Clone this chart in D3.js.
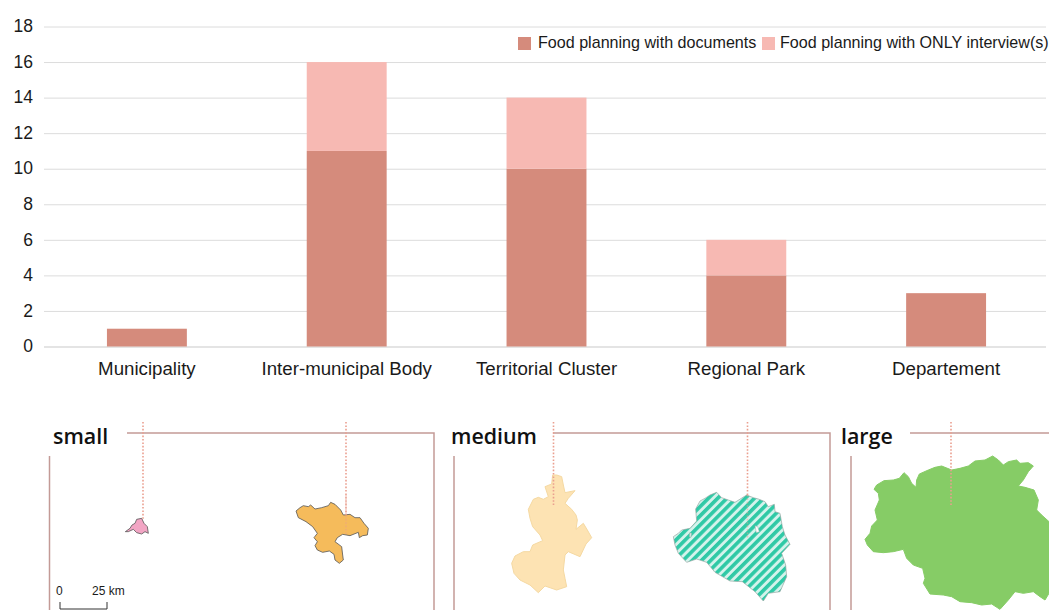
<!DOCTYPE html>
<html>
<head>
<meta charset="utf-8">
<script src="https://cdn.jsdelivr.net/npm/d3@7"></script>
<style>
    html, body { margin: 0; padding: 0; background: #fff; }
    svg { display: block; }
    text { font-family: "Liberation Sans", Arial, sans-serif; fill: #1a1a1a; }
    .inset_title { font-family: "Open Sans", sans-serif; font-weight: 600; font-size: 21.4px; fill: #111; }
</style>
</head>
<body>
<div id="chart"></div>
<script>
// chart data
var categories = ["Municipality", "Inter-municipal Body", "Territorial Cluster", "Regional Park", "Departement"];
var with_documents = [1, 11, 10, 4, 3];
var only_interviews = [0, 5, 4, 2, 0];
var y_ticks = [0, 2, 4, 6, 8, 10, 12, 14, 16, 18];
var series_names = ["Food planning with documents", "Food planning with ONLY interview(s)"];
var series_colors = ["#d58b7c", "#f7b9b3"];

// map outlines (3x crop units)
var pink_outline = [[376,365],[390,355],[396,345],[405,340],[410,328],[425,325],[432,340],[442,350],[445,370],[435,365],[425,372],[410,368],[400,358],[385,365]];
var orange_outline = [[18,48],[30,38],[40,32],[55,35],[62,30],[75,42],[95,38],[115,32],[122,22],[135,28],[152,45],[160,60],[180,58],[195,68],[210,68],[222,85],[235,100],[232,120],[218,122],[208,128],[205,112],[180,122],[158,118],[142,128],[135,140],[155,155],[158,180],[160,195],[148,205],[135,195],[132,178],[118,168],[98,172],[82,165],[75,152],[82,140],[72,128],[82,115],[68,95],[48,80],[25,68]];
var beige_outline = [[158,15],[170,15],[185,20],[190,45],[195,68],[225,62],[205,85],[195,100],[215,118],[228,135],[232,150],[228,178],[250,160],[262,180],[275,203],[258,222],[240,260],[205,245],[195,255],[190,300],[195,325],[200,350],[170,360],[135,348],[115,368],[90,345],[60,330],[42,310],[35,280],[45,258],[70,245],[90,245],[98,225],[128,212],[120,195],[98,170],[90,145],[85,118],[100,88],[115,82],[130,88],[145,80],[135,50],[155,42]];
var hatched_outline = [[25,155],[40,145],[50,135],[75,130],[95,108],[92,72],[105,48],[120,40],[135,30],[155,22],[170,38],[190,45],[210,52],[245,30],[265,38],[280,42],[300,50],[310,65],[328,58],[330,80],[345,85],[352,125],[360,150],[375,178],[350,205],[362,240],[365,275],[345,320],[310,325],[295,348],[270,320],[232,290],[195,288],[150,262],[125,232],[95,222],[65,232],[40,205],[30,180]];
var hatched_hole_a = [[270,122],[278,125],[283,140],[274,143]];
var hatched_hole_b = [[74,143],[80,145],[78,157],[73,155]];
var green_outline = [[42,118],[50,105],[72,92],[100,90],[118,85],[132,68],[145,80],[155,100],[168,112],[170,90],[178,72],[205,60],[225,52],[245,48],[275,60],[300,55],[325,48],[345,33],[375,30],[398,18],[415,30],[430,45],[445,35],[470,30],[480,40],[505,38],[520,48],[505,65],[490,90],[475,108],[495,112],[522,120],[535,150],[530,180],[545,195],[567,215],[567,430],[555,450],[540,440],[520,425],[490,430],[465,425],[445,450],[420,478],[395,462],[365,465],[335,458],[300,455],[275,440],[250,435],[210,432],[190,400],[195,385],[188,355],[160,345],[140,325],[130,298],[100,305],[70,308],[40,305],[22,285],[15,268],[30,250],[35,228],[52,210],[45,180],[58,150],[55,130]];

var width = 1049, height = 610;

var svg = d3.select("#chart")
    .append("svg")
    .attr("width", width)
    .attr("height", height);

/////////////////////////////
/////////Bar chart///////////
/////////////////////////////

var x_scale = d3.scaleBand()
    .domain(categories)
    .range([47, 1046])
    .paddingInner(0.6)
    .paddingOuter(0.3);

var y_scale = d3.scaleLinear()
    .domain([0, 18])
    .range([346.5, 26.5]);

// gridlines + y labels
var y_axis = svg.append("g")
    .attr("transform", "translate(44,0)")
    .call(d3.axisLeft(y_scale).tickValues(y_ticks).tickSize(-1002).tickPadding(11));
y_axis.select(".domain").remove();
y_axis.selectAll("line").attr("stroke", function (d) { return d == 0 ? "#c9c9c9" : "#dcdcdc"; });
y_axis.selectAll("text")
    .attr("font-size", 17.5)
    .attr("dy", "0.3em")
    .style("font-family", '"Liberation Sans", Arial, sans-serif');

// stacked bars
categories.forEach(function (c, i) {
    svg.append("rect")
        .attr("x", x_scale(c))
        .attr("y", y_scale(with_documents[i]))
        .attr("width", x_scale.bandwidth())
        .attr("height", y_scale(0) - y_scale(with_documents[i]))
        .attr("fill", series_colors[0]);
    svg.append("rect")
        .attr("x", x_scale(c))
        .attr("y", y_scale(with_documents[i] + only_interviews[i]))
        .attr("width", x_scale.bandwidth())
        .attr("height", y_scale(with_documents[i]) - y_scale(with_documents[i] + only_interviews[i]))
        .attr("fill", series_colors[1]);
});

// category labels
var x_axis = svg.append("g")
    .attr("transform", "translate(0,346.5)")
    .call(d3.axisBottom(x_scale).tickSize(0).tickPadding(15));
x_axis.select(".domain").remove();
x_axis.selectAll("text")
    .attr("font-size", 18.7)
    .style("font-family", '"Liberation Sans", Arial, sans-serif');

// legend
var legend_x = [518, 762];
var legend_text_x = [538, 780];
series_names.forEach(function (name, i) {
    svg.append("rect")
        .attr("x", legend_x[i])
        .attr("y", 37)
        .attr("width", 13)
        .attr("height", 13)
        .attr("fill", series_colors[i]);
    svg.append("text")
        .attr("x", legend_text_x[i])
        .attr("y", 48)
        .attr("font-size", 16.1)
        .text(name);
});

/////////////////////////////
/////////Map insets//////////
/////////////////////////////

var defs = svg.append("defs");
var hatch = defs.append("pattern")
    .attr("id", "hatch")
    .attr("patternUnits", "userSpaceOnUse")
    .attr("width", 6.5)
    .attr("height", 6.5)
    .attr("patternTransform", "rotate(-45)");
hatch.append("rect").attr("width", 6.5).attr("height", 6.5).attr("fill", "#d4f3ec");
hatch.append("rect").attr("width", 6.5).attr("height", 3.6).attr("fill", "#2fc9a6");

// each outline goes through its own crop scale
function outline_path(points, left, top) {
    var sx = d3.scaleLinear().domain([0, 3]).range([left, left + 1]);
    var sy = d3.scaleLinear().domain([0, 3]).range([top, top + 1]);
    return d3.line()
        .x(function (d) { return sx(d[0]); })
        .y(function (d) { return sy(d[1]); })
        .curve(d3.curveLinearClosed)(points);
}

function draw_outline(points, left, top, fill, stroke, stroke_width) {
    svg.append("path")
        .attr("d", outline_path(points, left, top))
        .attr("fill", fill)
        .attr("stroke", stroke)
        .attr("stroke-width", stroke_width)
        .attr("stroke-linejoin", "round");
}

draw_outline(pink_outline, 0, 410, "#f2a5c4", "#555", 0.8);
draw_outline(orange_outline, 290, 495, "#f5bb5b", "#555", 0.8);
draw_outline(beige_outline, 500, 470, "#fde3b3", "#f5d9a2", 1);
draw_outline(hatched_outline, 665, 485, "url(#hatch)", "#9aa8a4", 0.7);
draw_outline(hatched_hole_a, 665, 485, "#fff", "#9aa8a4", 0.5);
draw_outline(hatched_hole_b, 665, 485, "#cfe9e2", "#9aa8a4", 0.5);
draw_outline(green_outline, 860, 450, "#86cc66", "#86cc66", 1);

// frames
var frames = [
    { title: "small", title_x: 53, left: 49.5, top_from: 127, right: 434 },
    { title: "medium", title_x: 451, left: 454, top_from: 553, right: 830 },
    { title: "large", title_x: 841, left: 851, top_from: 910, right: 1049 }
];
frames.forEach(function (f) {
    var frame_color = "#c39a96";
    svg.append("path")
        .attr("d", "M" + f.top_from + ",433H" + f.right + (f.right < width ? "V610" : ""))
        .attr("fill", "none").attr("stroke", frame_color).attr("stroke-width", 1.5);
    svg.append("line")
        .attr("x1", f.left).attr("x2", f.left).attr("y1", 456).attr("y2", 610)
        .attr("stroke", frame_color).attr("stroke-width", 1.5);
    svg.append("text")
        .attr("class", "inset_title")
        .attr("x", f.title_x)
        .attr("y", 444)
        .text(f.title);
});

// dotted leader lines
var leaders = [[143, 520], [346, 515], [553.5, 505], [747.5, 495], [951, 505]];
var leaders_inside = [[346, 535], [747.5, 538]];
leaders.forEach(function (l) {
    svg.append("line")
        .attr("x1", l[0]).attr("x2", l[0]).attr("y1", 422).attr("y2", l[1])
        .attr("stroke", "#ea9f8f")
        .attr("stroke-width", 1.6)
        .attr("stroke-dasharray", "1.6 1.8");
});
leaders_inside.forEach(function (l) {
    svg.append("line")
        .attr("x1", l[0]).attr("x2", l[0]).attr("y1", 495).attr("y2", l[1])
        .attr("stroke", "#ea9f8f")
        .attr("stroke-opacity", 0.5)
        .attr("stroke-width", 1.6)
        .attr("stroke-dasharray", "1.6 1.8");
});

// scale bar
svg.append("path")
    .attr("d", "M60,602V609H107V602")
    .attr("fill", "none").attr("stroke", "#333").attr("stroke-width", 1);
svg.append("text").attr("x", 56).attr("y", 595).attr("font-size", 12).text("0");
svg.append("text").attr("x", 92).attr("y", 595).attr("font-size", 12).text("25 km");
</script>
</body>
</html>
